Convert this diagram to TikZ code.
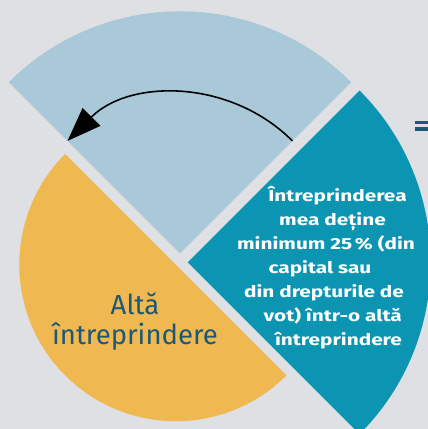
\documentclass[tikz,border=0pt]{standalone}
\usepackage{fontspec}
\setmainfont{Fira Sans}
\newfontfamily\widebold{Fira Sans}[FakeStretch=1.3]
\usetikzlibrary{arrows.meta}
\definecolor{bgc}{HTML}{DEE0E3}
\definecolor{lblue}{HTML}{A9C9D9}
\definecolor{tealc}{HTML}{0C95B2}
\definecolor{yell}{HTML}{F0B850}
\definecolor{dtext}{HTML}{1C5877}
\begin{document}
\begin{tikzpicture}[x=1pt,y=1pt,
  wline/.style={text=white,font=\widebold\bfseries\fontsize{16}{18}\selectfont,inner sep=0pt,anchor=base},
  dline/.style={text=dtext,font=\fontsize{27.5}{30}\selectfont,inner sep=0pt,anchor=base},
  bar/.style={fill=dtext}]
\useasboundingbox (0,0) rectangle (428,429);
\clip (0,0) rectangle (428,429);
\fill[bgc] (0,0) rectangle (428,429);
% sectors
\fill[lblue] (180,175.7) -- ++(45:242) arc[start angle=45,end angle=135,radius=242] -- cycle;
\fill[tealc] (187.7,166.7) -- ++(-45:243) arc[start angle=-45,end angle=45,radius=243] -- cycle;
\fill[yell] (175.8,164.3) ++(135:156.5) arc[start angle=135,end angle=315,radius=156.5] -- cycle;
% equals sign
\fill[bar] (415,304.5) rectangle (428,308);
\fill[bar] (415,297.5) rectangle (428,301.5);
% arrow
\coordinate (as) at (292.4,288.1);
\draw[line width=1.6pt,-{Triangle[length=34pt,width=25pt]}] (as) arc[start angle=45,end angle=135,radius=159];
% texts
\node[dline] (a1) at (135,114) {Altă};
\node[dline] (a2) at (135,84) {întreprindere};
\node[wline] (t1) at (337.5,227.5) {Întreprinderea};
\node[wline] (t2) at (332.5,203.5) {mea deține};
\node[wline] (t3) at (326,179.5) {minimum 25\,\% (din};
\node[wline] (t4) at (320,155.5) {capital sau};
\node[wline] (t5) at (324,131.5) {din drepturile de};
\node[wline] (t6) at (332.7,107.5) {vot) într-o altă};
\node[wline] (t7) at (338.5,83.5) {întreprindere};
\end{tikzpicture}
\end{document}
